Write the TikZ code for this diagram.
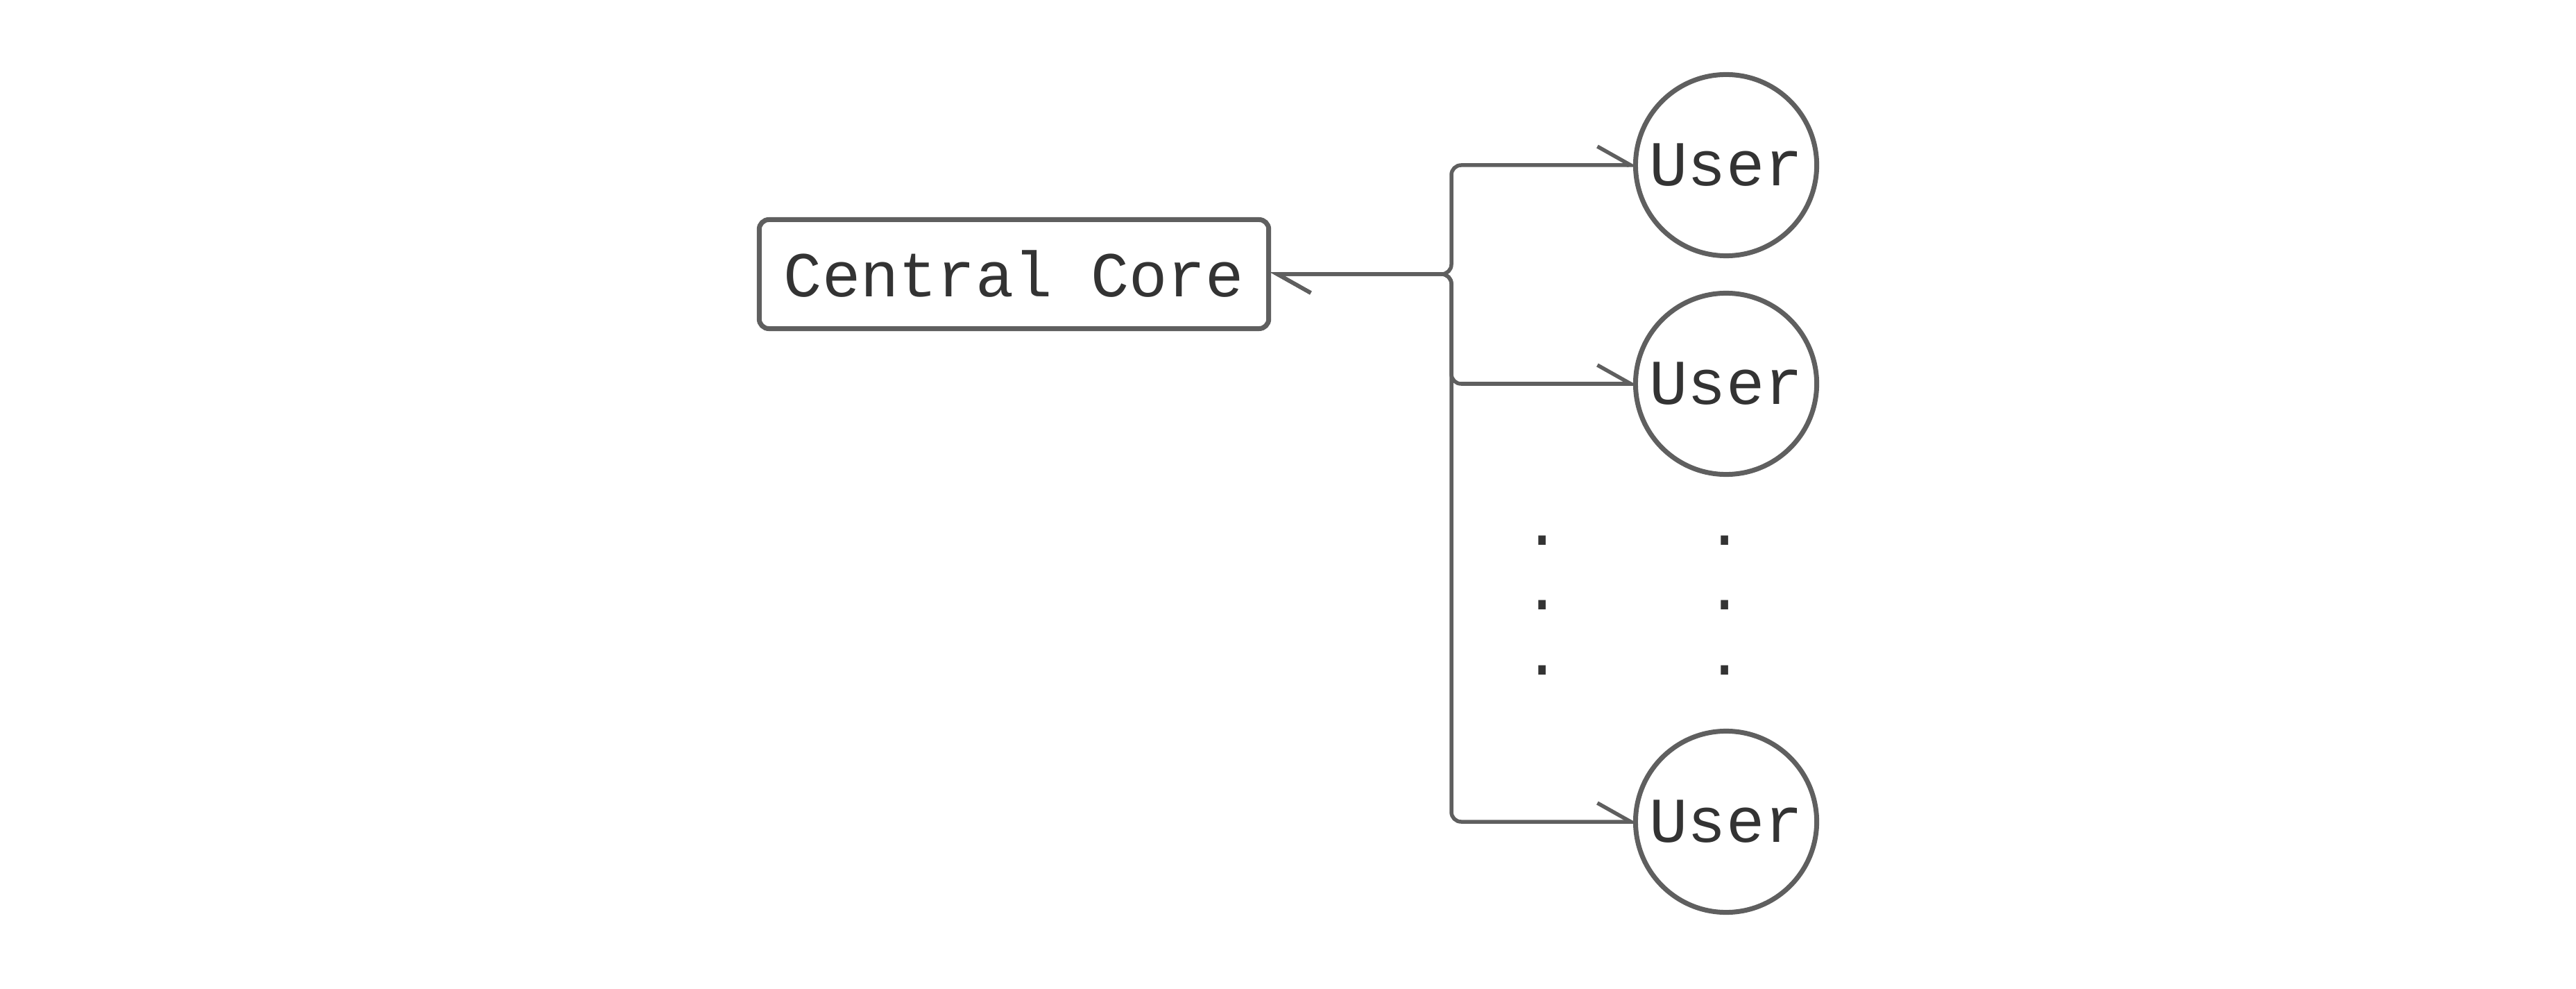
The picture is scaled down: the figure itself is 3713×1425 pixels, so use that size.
\documentclass[tikz,border=0pt]{standalone}
\usepackage{fontspec}
\setmonofont{Liberation Mono}
\usetikzlibrary{arrows.meta}
\definecolor{strk}{HTML}{5F5F5F}
\definecolor{txt}{HTML}{333333}
\begin{document}
\begin{tikzpicture}[x=0.01cm,y=-0.01cm,
  lbl/.style={font=\ttfamily\fontsize{26.2pt}{30pt}\selectfont, text=txt},
  corebox/.style={lbl, draw=strk, line width=0.07cm, rounded corners=0.14cm,
    minimum width=7.34cm, minimum height=1.57cm, inner sep=0},
  usernode/.style={lbl, draw=strk, circle, line width=0.07cm,
    minimum size=2.61cm, inner sep=0},
  barb/.tip={Straight Barb[harpoon,length=0.48cm,width=0.54cm]},
  conn/.style={draw=strk, line width=0.055cm, rounded corners=0.14cm,
    barb-barb, shorten <=-0.015cm, shorten >=-0.07cm},
  dotnode/.style={lbl, inner sep=0}]
\useasboundingbox (0,0) rectangle (3713,1425);
\node[corebox] (core) at (1461.5,395) {Central Core};
\node[usernode] (u1) at (2488,238) {User};
\node[usernode] (u2) at (2488,553) {User};
\node[usernode] (u3) at (2488,1184) {User};
\coordinate (trunk) at (2092,0);
\draw[conn] (core.east) -- (core.east -| trunk) |- (u1.west);
\draw[conn] (core.east) -- (core.east -| trunk) |- (u2.west);
\draw[conn] (core.east) -- (core.east -| trunk) |- (u3.west);
\node[dotnode] (da1) at (2223,779) {.};
\node[dotnode] (da2) at (2223,872) {.};
\node[dotnode] (da3) at (2223,966) {.};
\node[dotnode] (db1) at (2486,779) {.};
\node[dotnode] (db2) at (2486,872) {.};
\node[dotnode] (db3) at (2486,966) {.};
\end{tikzpicture}
\end{document}
